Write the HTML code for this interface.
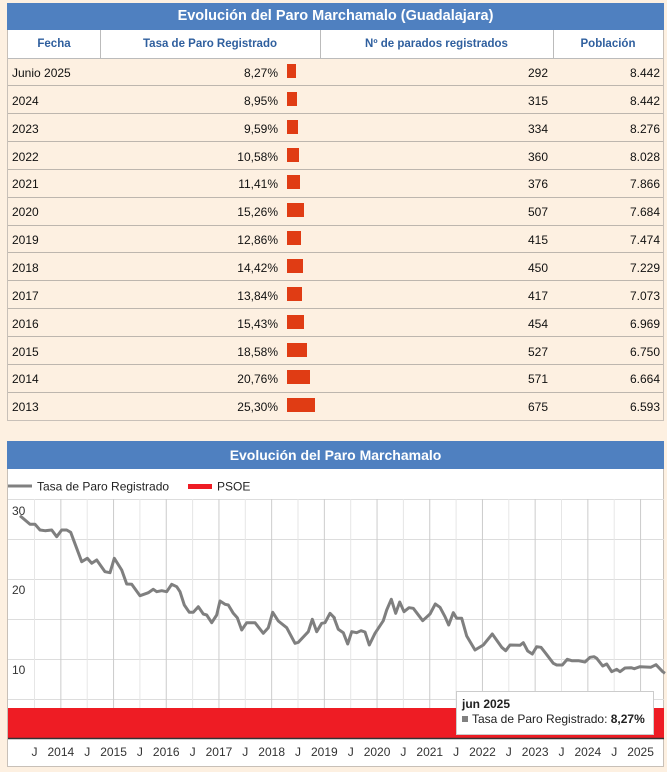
<!DOCTYPE html>
<html><head><meta charset="utf-8"><style>
body{margin:0;width:667px;height:772px;background:#fdf0e1;font-family:"Liberation Sans",Arial,sans-serif;position:relative;overflow:hidden}
.a{position:absolute}
.t{font-size:12px;color:#111}
.h{font-size:11.5px;color:#2f5f9e;font-weight:bold}
</style></head><body>
<div class="a" style="left:7px;top:3px;width:657px;height:418px;border:1px solid #c8c0b8;box-sizing:border-box;background:#fdf0e1"></div>
<div class="a" style="left:7px;top:3px;width:657px;height:27px;background:#4f80c0;color:#fff;font-weight:bold;font-size:14.5px;text-align:center;line-height:27px">Evolución del Paro Marchamalo (Guadalajara)</div>
<div class="a" style="left:8px;top:30px;width:655px;height:28px;background:#fff;border-bottom:1px solid #bbb"></div>
<div class="a" style="left:100px;top:30px;width:1px;height:28px;background:#bbb"></div>
<div class="a" style="left:320px;top:30px;width:1px;height:28px;background:#bbb"></div>
<div class="a" style="left:553px;top:30px;width:1px;height:28px;background:#bbb"></div>
<div class="a h" style="left:8px;top:38px;width:92px;text-align:center">Fecha</div>
<div class="a h" style="left:100px;top:38px;width:220px;text-align:center">Tasa de Paro Registrado</div>
<div class="a h" style="left:320px;top:38px;width:233px;text-align:center">Nº de parados registrados</div>
<div class="a h" style="left:553px;top:38px;width:110px;text-align:center">Población</div>
<div id="rows"></div>
<script>
var d=[["Junio 2025","8,27%",292,"8.442",8.27],["2024","8,95%",315,"8.442",8.95],["2023","9,59%",334,"8.276",9.59],["2022","10,58%",360,"8.028",10.58],["2021","11,41%",376,"7.866",11.41],["2020","15,26%",507,"7.684",15.26],["2019","12,86%",415,"7.474",12.86],["2018","14,42%",450,"7.229",14.42],["2017","13,84%",417,"7.073",13.84],["2016","15,43%",454,"6.969",15.43],["2015","18,58%",527,"6.750",18.58],["2014","20,76%",571,"6.664",20.76],["2013","25,30%",675,"6.593",25.3]];
var h="";for(var i=0;i<d.length;i++){var y=58+i*27.85;var r=d[i];
if(i>0)h+='<div class="a" style="left:8px;top:'+(y-0.5)+'px;width:655px;height:1px;background:#bdb6ae"></div>';
h+='<div class="a t" style="left:12px;top:'+(y+8)+'px">'+r[0]+'</div>';
h+='<div class="a t" style="left:180px;width:98px;text-align:right;top:'+(y+8)+'px">'+r[1]+'</div>';
h+='<div class="a" style="left:287px;top:'+(y+6)+'px;width:'+(r[4]*1.1)+'px;height:14px;background:#e03c14"></div>';
h+='<div class="a t" style="left:400px;width:148px;text-align:right;top:'+(y+8)+'px">'+r[2]+'</div>';
h+='<div class="a t" style="left:560px;width:100px;text-align:right;top:'+(y+8)+'px">'+r[3]+'</div>';}
document.getElementById("rows").innerHTML=h;
</script>
<div class="a" style="left:7px;top:441px;width:657px;height:326px;background:#fff;border:1px solid #c8c0b8;box-sizing:border-box"></div>
<div class="a" style="left:7px;top:441px;width:657px;height:28px;background:#4f80c0;color:#fff;font-weight:bold;font-size:14px;text-align:center;line-height:28px">Evolución del Paro Marchamalo</div>
<svg class="a" style="left:0;top:0" width="667" height="772">
<g id="grid"></g>
<rect x="8" y="708" width="656" height="30" fill="#ee1c24"/>
<line x1="8" y1="738.5" x2="664" y2="738.5" stroke="#333" stroke-width="1.5"/>
<line x1="8" y1="486" x2="32" y2="486" stroke="#808080" stroke-width="3"/>
<text x="37" y="490.5" font-size="12" fill="#222" font-family="Liberation Sans,Arial">Tasa de Paro Registrado</text>
<rect x="188" y="484" width="24" height="5" fill="#ee1c24"/>
<text x="217" y="490.5" font-size="12" fill="#222" font-family="Liberation Sans,Arial">PSOE</text>
<text x="12" y="515" font-size="12" fill="#333" font-family="Liberation Sans,Arial">30</text>
<text x="12" y="594" font-size="12" fill="#333" font-family="Liberation Sans,Arial">20</text>
<text x="12" y="674" font-size="12" fill="#333" font-family="Liberation Sans,Arial">10</text>
<polyline id="ln" fill="none" stroke="#7f7f7f" stroke-width="3" stroke-linejoin="round"/>
<g id="xl" font-size="12" fill="#333" font-family="Liberation Sans,Arial" text-anchor="middle"></g>
<rect x="456.5" y="691.5" width="197" height="43" fill="#fff" stroke="#ccc"/>
<text x="462" y="708" font-size="12" font-weight="bold" fill="#222" font-family="Liberation Sans,Arial">jun 2025</text>
<rect x="462" y="716" width="6" height="6" fill="#808080"/>
<text x="472" y="723" font-size="12" fill="#222" font-family="Liberation Sans,Arial">Tasa de Paro Registrado: <tspan font-weight="bold">8,27%</tspan></text>
</svg>
<script>
var g="";
[499,539,579,619,659,699].forEach(function(y){g+='<line x1="8" y1="'+(y+.5)+'" x2="664" y2="'+(y+.5)+'" stroke="#ddd"/>';});
for(var k=0;k<24;k++){var x=34.5+k*26.35;g+='<line x1="'+x+'" y1="499" x2="'+x+'" y2="738" stroke="'+(k%2?'#ccc':'#e6e6e6')+'"/>';}
document.getElementById("grid").innerHTML=g;
var xl="";for(var k=0;k<24;k++){var x=34.5+k*26.35;xl+='<text x="'+x+'" y="756">'+(k%2?(2014+(k-1)/2):'J')+'</text>';}
document.getElementById("xl").innerHTML=xl;
var a=[[60,62],[90,88],[105,88],[120,105],[135,107],[155,105],[170,125],[185,105],[200,105],[212,112],[245,200],[262,190],[275,205],[290,195],[315,230],[330,233],[343,190],[365,225],[380,267],[395,268],[420,302],[440,295],[445,293],[460,283],[470,290],[485,287],[500,290],[515,268],[530,275],[540,290],[553,330],[568,352],[580,352],[595,335],[610,357],[620,360],[635,383],[650,360],[660,318],[675,328],[685,330],[700,355],[712,368],[725,405],[740,383],[765,383],[790,415],[805,398],[818,352],[835,378],[860,398],[885,445],[895,442],[925,410],[937,373],[950,410],[965,385],[975,383],[990,355],[1003,368]];
var b=[[12,143],[25,178],[40,188],[53,222],[65,185],[80,188],[93,182],[105,186],[118,225],[135,190],[160,152],[170,120],[184,88],[197,130],[209,96],[222,125],[237,113],[250,115],[278,152],[300,132],[316,102],[330,112],[345,140],[356,165],[370,128],[380,145],[395,145],[410,198],[435,240],[460,225],[487,192],[515,232],[527,242],[540,225],[570,226],[580,218],[593,243],[607,252],[620,230],[633,232],[647,250],[670,280],[680,285],[697,285],[712,268],[725,272],[745,272],[765,276],[780,262],[792,260],[800,265],[818,288],[830,282],[845,305],[860,298],[870,305],[885,294],[903,293],[913,296],[930,290],[962,292],[978,284],[998,305],[1005,310]];
var p=a.map(function(q){return (q[0]/3).toFixed(1)+','+(495+q[1]/3).toFixed(1)}).concat(b.map(function(q){return (330+q[0]/3).toFixed(1)+','+(570+q[1]/3).toFixed(1)}));
document.getElementById("ln").setAttribute("points",p.join(" "));
</script>
</body></html>
